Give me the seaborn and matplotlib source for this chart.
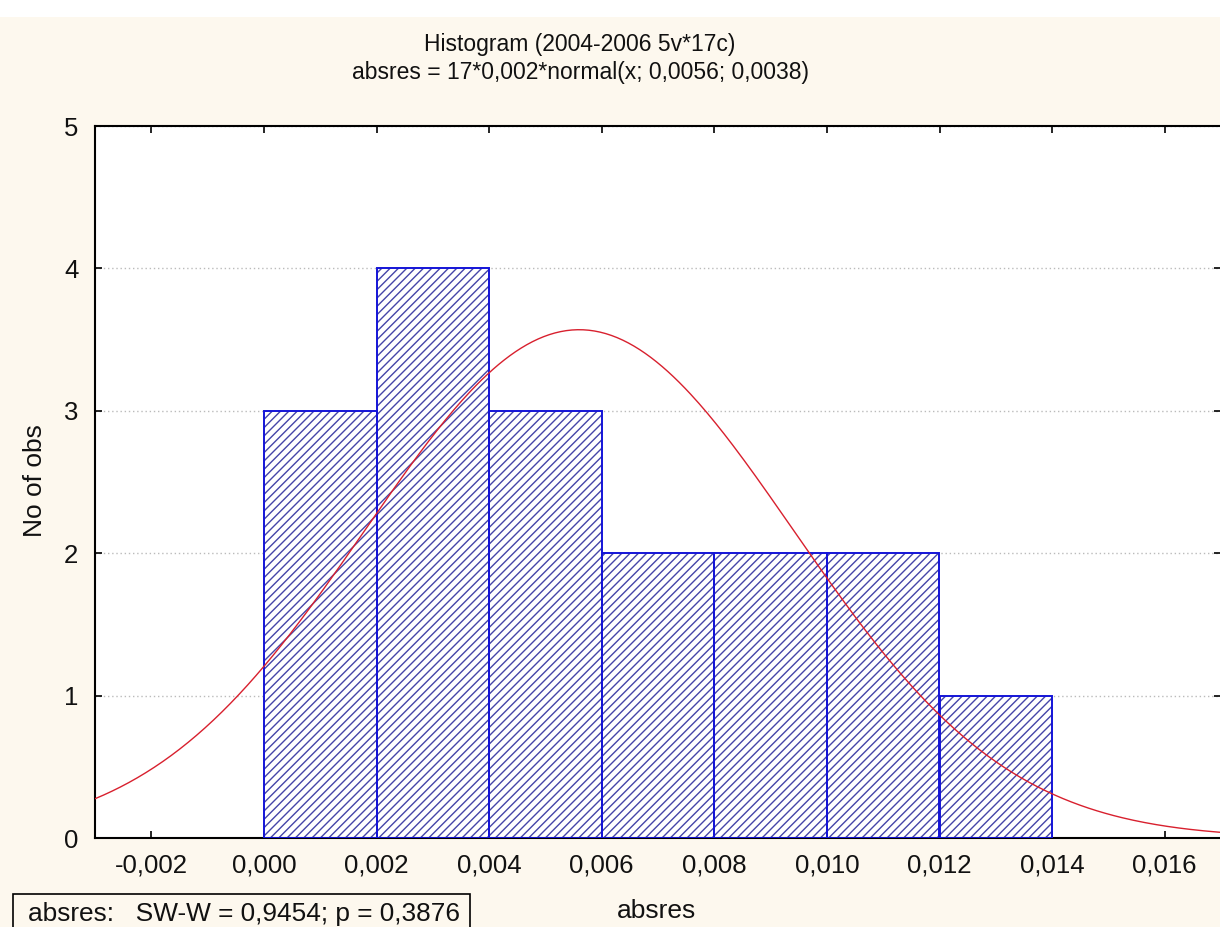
import numpy as np
import matplotlib
matplotlib.use("Agg")
import matplotlib.pyplot as plt
from matplotlib.patches import Rectangle
import seaborn as sns

# Histogram data: bin edges and counts of absres
bin_edges = [0.000, 0.002, 0.004, 0.006, 0.008, 0.010, 0.012, 0.014]
bin_counts = [3, 4, 3, 2, 2, 2, 1]

# Fitted normal curve parameters
n_obs = 17
bin_width = 0.002
mu = 0.0056
sigma = 0.0038

x_ticks = [-0.002, 0.000, 0.002, 0.004, 0.006, 0.008, 0.010, 0.012, 0.014, 0.016]
y_ticks = [0, 1, 2, 3, 4, 5]

title_1 = "Histogram (2004-2006 5v*17c)"
title_2 = "absres = 17*0,002*normal(x; 0,0056; 0,0038)"
sw_text = "absres:   SW-W = 0,9454; p = 0,3876"

sns.set_theme(style="white")
plt.rcParams["font.family"] = ["Liberation Sans", "DejaVu Sans"]
plt.rcParams["hatch.linewidth"] = 1.0

W, H = 1220, 927
fig = plt.figure(figsize=(W / 100, H / 100), dpi=100)
fig.patch.set_facecolor("#FDF8EE")
# white strip along the top
fig.patches.append(Rectangle((0, 1 - 17 / H), 1, 17 / H, transform=fig.transFigure,
                             facecolor="white", edgecolor="none", zorder=0))

left, right, top, bottom = 95, 1221, 126, 838
ax = fig.add_axes([left / W, 1 - bottom / H, (right - left) / W, (bottom - top) / H])
ax.set_facecolor("white")

centers = [e + bin_width / 2 for e in bin_edges[:-1]]

# hatched bars
sns.histplot(x=centers, weights=bin_counts, bins=bin_edges, ax=ax,
             color="white", edgecolor="#4545A8", hatch="////", linewidth=0,
             alpha=1, zorder=2)
# bar outlines
sns.histplot(x=centers, weights=bin_counts, bins=bin_edges, ax=ax,
             fill=False, color="#1414D8", edgecolor="#1414D8", linewidth=1.4,
             alpha=1, zorder=3)

# normal curve
xs = np.linspace(-0.003, 0.017, 400)
ys = n_obs * bin_width * np.exp(-0.5 * ((xs - mu) / sigma) ** 2) / (sigma * np.sqrt(2 * np.pi))
sns.lineplot(x=xs, y=ys, ax=ax, color="#D8202E", linewidth=1.0, zorder=4)

ax.set_xlim(-0.003, 0.017)
ax.set_ylim(0, 5)
ax.set_xticks(x_ticks)
ax.set_xticklabels([f"{v:.3f}".replace(".", ",") for v in x_ticks])
ax.set_yticks(y_ticks)
ax.set_yticklabels([str(v) for v in y_ticks])

ax.yaxis.grid(True, linestyle=(0, (1, 2)), color="#BBBBBB", linewidth=1.0, zorder=0)
ax.set_axisbelow(True)

ax.tick_params(axis="both", direction="in", length=5, width=1.2, color="black",
               labelsize=18.5, labelcolor="#111111",
               top=True, right=True, bottom=True, left=True)
ax.tick_params(axis="x", pad=11)
ax.tick_params(axis="y", pad=12)

for side in ["left", "bottom", "top"]:
    ax.spines[side].set_visible(True)
    ax.spines[side].set_color("black")
    ax.spines[side].set_linewidth(1.5)
ax.spines["right"].set_visible(False)

ax.set_xlabel("")
ax.set_ylabel("")

fig.text(35 / W, 1 - 481 / H, "No of obs", rotation=90, ha="center", va="center",
         fontsize=19, color="#111111")
fig.text(657 / W, 1 - 911 / H, "absres", ha="center", va="center",
         fontsize=19, color="#111111")
fig.text(580 / W, 1 - 45 / H, title_1, ha="center", va="center",
         fontsize=16.5, color="#111111")
fig.text(580 / W, 1 - 73 / H, title_2, ha="center", va="center",
         fontsize=16.5, color="#111111")

# Shapiro-Wilk box
fig.patches.append(Rectangle((13 / W, -0.01), (470 - 13) / W, (H - 894) / H + 0.01,
                             transform=fig.transFigure, facecolor="none",
                             edgecolor="black", linewidth=1.2))
fig.text(28 / W, 1 - 914 / H, sw_text, ha="left", va="center",
         fontsize=18.9, color="#111111")

fig.savefig("out.png", dpi=100, facecolor=fig.get_facecolor())
